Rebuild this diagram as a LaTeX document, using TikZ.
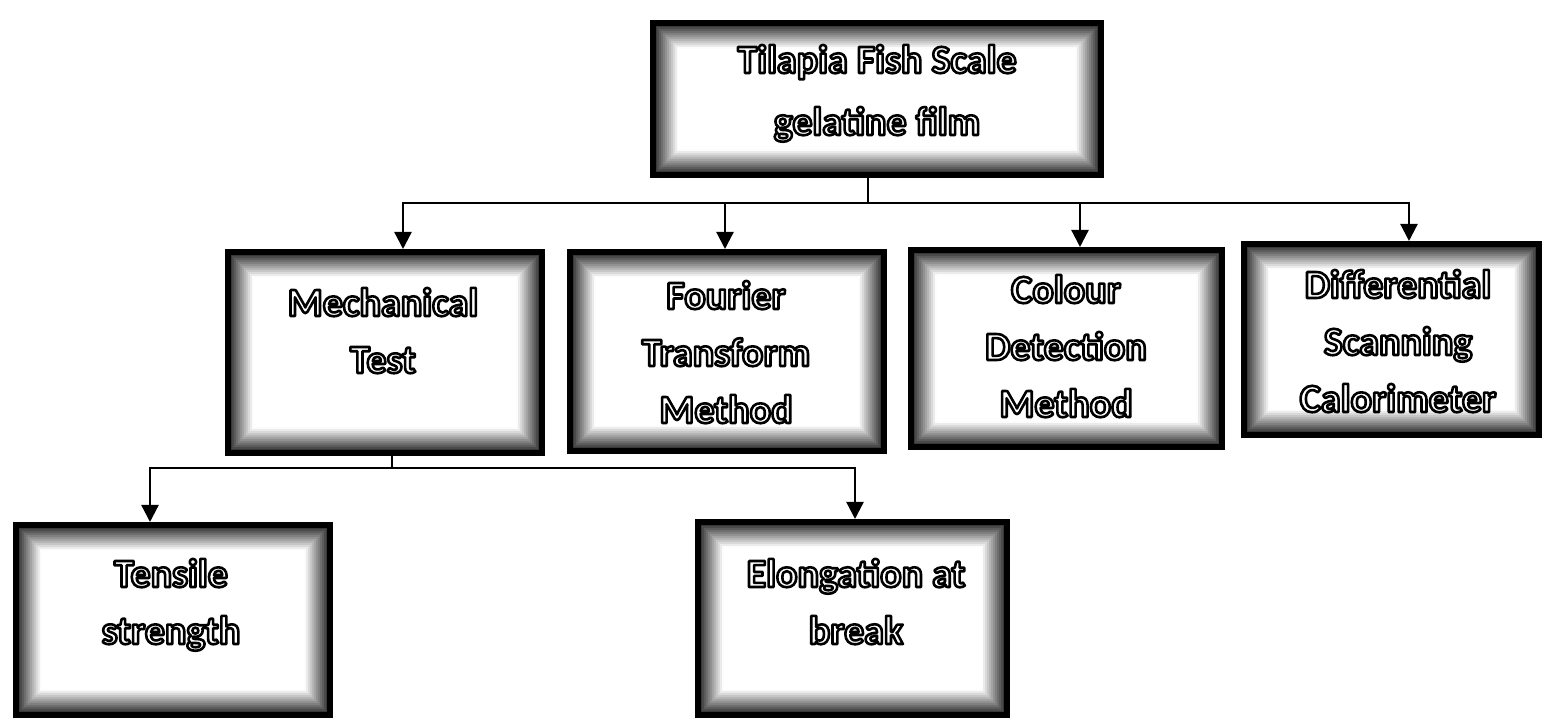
\documentclass[tikz,border=0pt]{standalone}
\usepackage{fontspec}
\setmainfont{Carlito}
\usetikzlibrary{arrows.meta}
\newcommand\outlined[2][57pt]{%
  \fontsize{40pt}{#1}\selectfont\bfseries\color{white}%
  \special{pdf:literal direct q 1 j 2 Tr 2.6 w 0 G}%
  \begin{tabular}[t]{@{}c@{}}#2\end{tabular}%
  \special{pdf:literal direct Q}}
\tikzset{
  gbox/.style={rectangle, draw=black, fill=white, line width=6pt, inner sep=0pt,
    path picture={
      \foreach \i in {0,...,12}{
        \pgfmathsetmacro\d{\i*2+1}
        \pgfmathtruncatemacro\c{max(0,85-\i*7)}
        \draw[line width=2.3pt, black!\c]
          ([shift={(\d pt,\d pt)}]path picture bounding box.south west) rectangle
          ([shift={(-\d pt,-\d pt)}]path picture bounding box.north east);
      }
    }},
  lbl/.style={inner sep=0pt, anchor=base},
  conn/.style={draw=black, line width=2.3pt},
  arr/.style={conn, -{Triangle[length=17pt,width=17pt]}}
}
\begin{document}
\begin{tikzpicture}[x=1pt,y=1pt]
\useasboundingbox[fill=white] (0,0) rectangle (1543,719);
% boxes
\node[gbox, minimum width=448pt, minimum height=152pt] (top) at (877,620) {};
\node[gbox, minimum width=314pt, minimum height=201pt] (mech) at (385,366.5) {};
\node[gbox, minimum width=314pt, minimum height=199pt] (four) at (727,367.5) {};
\node[gbox, minimum width=311pt, minimum height=197pt] (col) at (1066.5,370.5) {};
\node[gbox, minimum width=295pt, minimum height=191pt] (dsc) at (1391.5,379.5) {};
\node[gbox, minimum width=314pt, minimum height=190pt] (ten) at (173,99) {};
\node[gbox, minimum width=309pt, minimum height=193pt] (elo) at (852.5,100.5) {};
% labels
\node[lbl] (topL) at (877,646) {\outlined[62pt]{Tilapia Fish Scale\\gelatine film}};
\node[lbl] (mechL) at (383,403) {\outlined{Mechanical\\Test}};
\node[lbl] (fourL) at (726,410) {\outlined{Fourier\\Transform\\Method}};
\node[lbl] (colL) at (1066,416) {\outlined{Colour\\Detection\\Method}};
\node[lbl] (dscL) at (1398,421) {\outlined{Differential\\Scanning\\Calorimeter}};
\node[lbl] (tenL) at (171,132) {\outlined{Tensile\\strength}};
\node[lbl] (eloL) at (856,132) {\outlined{Elongation at\\break}};
% connectors
\coordinate (tb) at (868,516);
\coordinate (bb) at (392,251);
\draw[conn] ([xshift=-9pt]top.south) -- (tb);
\draw[arr] (tb) -| ([xshift=18pt]mech.north);
\draw[arr] (tb) -| ([xshift=-2pt]four.north);
\draw[arr] (tb) -| ([xshift=13.5pt]col.north);
\draw[arr] (tb) -| ([xshift=17.5pt]dsc.north);
\draw[conn] ([xshift=7pt]mech.south) -- (bb);
\draw[arr] (bb) -| ([xshift=-23pt]ten.north);
\draw[arr] (bb) -| ([xshift=2.5pt]elo.north);
\end{tikzpicture}
\end{document}
